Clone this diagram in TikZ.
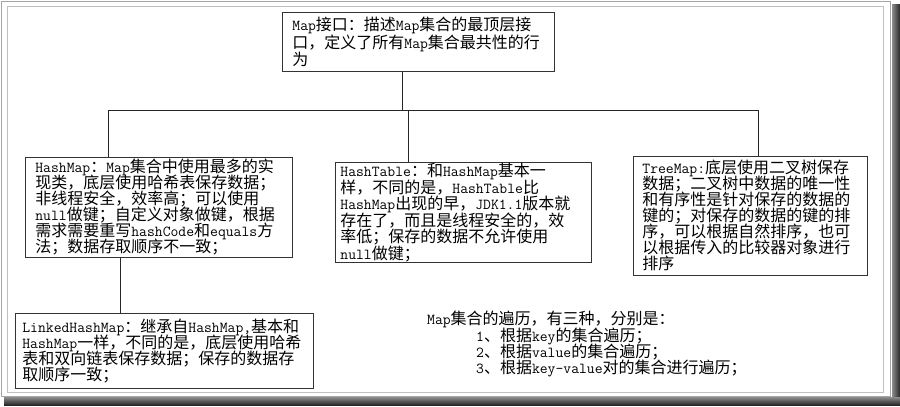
\documentclass[tikz,border=0pt]{standalone}
\usepackage{fontspec}
\setmainfont{Noto Sans CJK SC}
\newcommand\lat[1]{{\fontsize{15.24}{16}\selectfont\ttfamily #1}}
\newcommand\cjksize[1]{\fontsize{16}{#1}\selectfont\lineskiplimit=-30pt\lineskip=0pt}
\tikzset{
  box/.style={draw=black!80, line width=0.8pt, anchor=north west, align=left,
    inner ysep=0pt, font=\cjksize{16}},
  conn/.style={draw=black!85, line width=0.8pt},
}
\begin{document}
\begin{tikzpicture}[x=1pt,y=-1pt]
\useasboundingbox (0,0) rectangle (900,407);
\fill[white] (0,0) rectangle (900,407);
% frame
\shade[left color=black!45, right color=black!85] (892,4) rectangle (900,405);
\shade[top color=black!45, bottom color=black!85] (4,397) rectangle (900,405);
\draw[black!35, line width=1.5pt] (1.5,1.5) rectangle (890.5,396.5);
\draw[black!25, line width=1pt] (7,6) rectangle (883,392);

% boxes
\node[box, font=\cjksize{17.5}, text width=252pt, inner xsep=10pt, minimum height=59pt] (top) at (282,12)
  {\lat{Map}接口：描述\lat{Map}集合的最顶层接\\口，定义了所有\lat{Map}集合最共性的行\\为};
\node[box, text width=247pt, inner xsep=10pt, minimum height=100pt] (hm) at (25,157)
  {\lat{HashMap}：\lat{Map}集合中使用最多的实\\现类，底层使用哈希表保存数据；\\非线程安全，效率高；可以使用\\\lat{null}做键；自定义对象做键，根据\\需求需要重写\lat{hashCode}和\lat{equals}方\\法；数据存取顺序不一致；};
\node[box, font=\cjksize{16.5}, text width=246pt, inner xsep=5pt, minimum height=100pt] (ht) at (335,162)
  {\lat{HashTable}：和\lat{HashMap}基本一\\样，不同的是，\lat{HashTable}比\\\lat{HashMap}出现的早，\lat{JDK1.1}版本就\\存在了，而且是线程安全的，效\\率低；保存的数据不允许使用\\\lat{null}做键；};
\node[box, font=\cjksize{16}, text width=216pt, inner xsep=9pt, minimum height=119pt] (tm) at (633,156)
  {\lat{TreeMap:}底层使用二叉树保存\\数据；二叉树中数据的唯一性\\和有序性是针对保存的数据的\\键的；对保存的数据的键的排\\序，可以根据自然排序，也可\\以根据传入的比较器对象进行\\排序};
\node[box, text width=284pt, inner xsep=7pt, minimum height=75pt] (lhm) at (15,313)
  {\lat{LinkedHashMap}：继承自\lat{HashMap,}基本和\\\lat{HashMap}一样，不同的是，底层使用哈希\\表和双向链表保存数据；保存的数据存\\取顺序一致；};

% traversal text
\node[anchor=north west, align=left, inner sep=0pt, font=\cjksize{16.3}] (trav) at (427,311)
  {\lat{Map}集合的遍历，有三种，分别是：\\
   \hspace*{49pt}\lat{1}、根据\lat{key}的集合遍历；\\
   \hspace*{49pt}\lat{2}、根据\lat{value}的集合遍历；\\
   \hspace*{49pt}\lat{3}、根据\lat{key-value}对的集合进行遍历；};

% connectors
\coordinate (j0) at (402,110);
\coordinate (bl) at (108,110);
\coordinate (br) at (758,110);
\coordinate (jt) at (408,110);
\coordinate (jl) at (120,300);
\draw[conn] (top.south -| j0) -- (j0);
\draw[conn] (bl) -- (br);
\draw[conn] (bl) -- (hm.north -| bl);
\draw[conn] (jt) -- (ht.north -| jt);
\draw[conn] (br) -- (tm.north -| br);
\draw[conn] (hm.south -| jl) -- (lhm.north -| jl);
\end{tikzpicture}
\end{document}
